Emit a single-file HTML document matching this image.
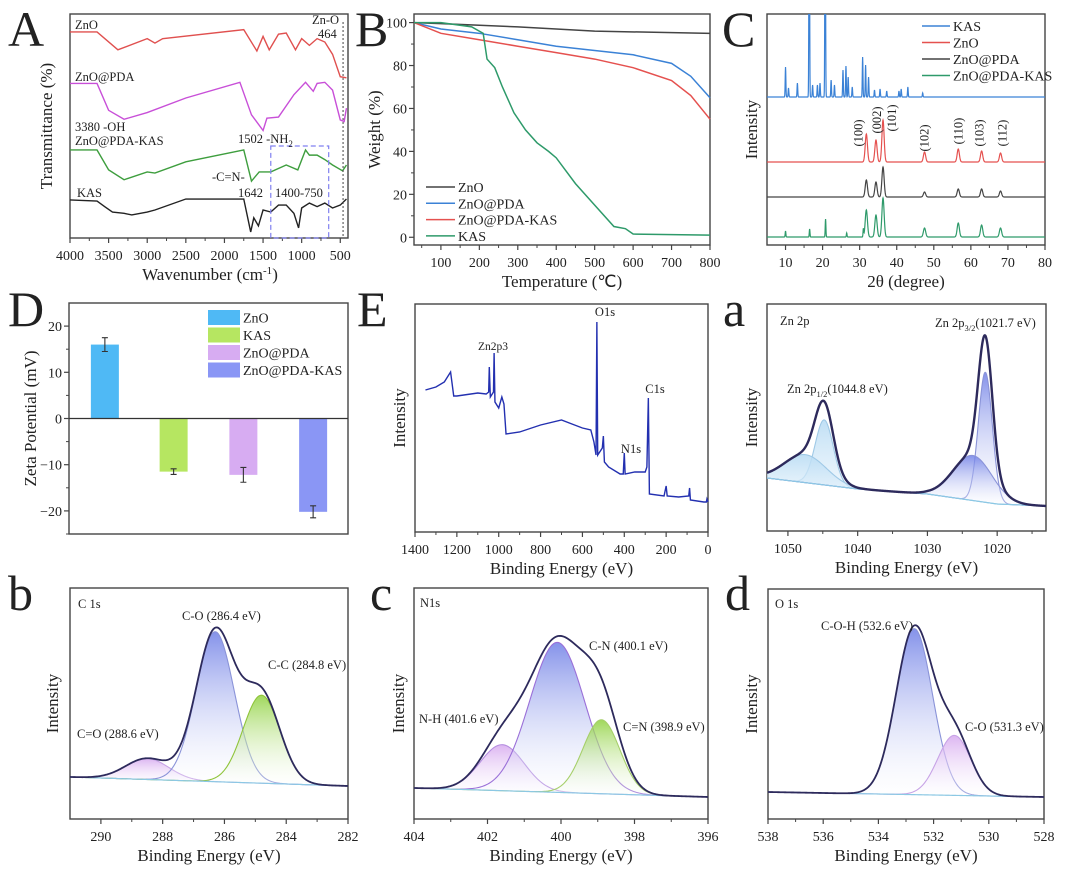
<!DOCTYPE html>
<html><head><meta charset="utf-8">
<style>
html,body{margin:0;padding:0;background:#fff;}
svg{display:block;font-family:"Liberation Serif",serif;}
</style></head>
<body>
<svg id="fig" width="1080" height="871" viewBox="0 0 1080 871" xmlns="http://www.w3.org/2000/svg">
<defs>
<linearGradient id="gBlue" x1="0" y1="0" x2="0" y2="1"><stop offset="0" stop-color="#6f7fe6" stop-opacity="0.85"/><stop offset="1" stop-color="#ffffff" stop-opacity="0.2"/></linearGradient>
<linearGradient id="gGreen" x1="0" y1="0" x2="0" y2="1"><stop offset="0" stop-color="#8fd13f" stop-opacity="0.85"/><stop offset="1" stop-color="#ffffff" stop-opacity="0.2"/></linearGradient>
<linearGradient id="gPink" x1="0" y1="0" x2="0" y2="1"><stop offset="0" stop-color="#d6a8ef" stop-opacity="0.85"/><stop offset="1" stop-color="#ffffff" stop-opacity="0.2"/></linearGradient>
<linearGradient id="gCyan" x1="0" y1="0" x2="0" y2="1"><stop offset="0" stop-color="#b9dcf4" stop-opacity="0.9"/><stop offset="1" stop-color="#eef6fc" stop-opacity="0.5"/></linearGradient>
<clipPath id="clipC"><rect x="767" y="14" width="278" height="231"/></clipPath>
</defs>
</svg>
<script>
// ---------------- DATA ----------------
const ftirZnO=[[4000,92],[3650,92],[3380,84],[3000,89],[2900,87],[2800,89],[1750,93],[1580,83.5],[1500,90],[1420,84],[1300,91],[1200,91.5],[1080,84],[1000,89],[900,86],[800,89],[700,87.5],[600,82],[500,72],[420,71.5]];
const ftirPDA=[[4000,69],[3650,69],[3500,57],[3300,53],[3000,56],[2500,62.5],[1800,69.5],[1650,55],[1500,48],[1450,53.5],[1300,54],[1100,64],[950,69.5],[850,65.5],[800,69],[700,69.5],[600,66],[500,52.7],[450,52],[420,58]];
const ftirPDAKAS=[[4000,39.3],[3650,39.3],[3500,30.4],[3300,26],[3000,29.5],[2900,29],[2500,34],[1750,39.3],[1650,25.4],[1550,29.5],[1400,29.5],[1200,32.6],[1050,30.4],[950,39.3],[900,37],[800,37],[700,35],[600,32.6],[470,30],[420,32.6]];
const ftirKAS=[[4000,17],[3650,16.5],[3550,14],[3450,11.6],[3300,11],[3200,10.3],[3000,11.6],[2900,12.5],[2500,17.4],[1750,17.4],[1660,2.7],[1620,9],[1560,5.4],[1500,12.5],[1400,11.6],[1300,14.7],[1200,14.7],[1100,11],[1040,4.5],[1000,13.4],[900,15.6],[800,14],[700,15.6],[600,13.4],[500,14.7],[420,17.4]];
const tgaZnO=[[30,100],[100,99.5],[300,98],[500,96],[800,95]];
const tgaPDA=[[30,100],[100,97],[200,95],[300,92],[400,89],[500,87],[600,85],[700,81],[750,75],[800,65]];
const tgaPDAKAS=[[30,100],[100,95],[200,92],[300,89],[400,86],[500,83],[600,79],[700,73],[750,66],[800,55]];
const tgaKAS=[[30,100],[100,100],[180,98],[210,95],[220,83],[240,79],[260,70],[290,58],[320,50],[350,44],[380,40],[400,37],[450,25],[500,15],[550,5],[580,4],[600,1.5],[800,1]];
const znoPeakPos=[31.8,34.4,36.3,47.5,56.6,62.9,68.0];
const znoPeakH=[28,22,42,10,13,11,9];
const pdaPeakH=[17,15,30,5,8,8,6];
const pdaKasPeakH=[27,22,39,9,14,12,9];
const greenExtraPeaks=[[20.8,18],[16.5,8],[10,6],[31,8],[26.5,4]];
const kasPeaks=[[10.0,30],[10.8,9],[13.2,14],[16.4,260],[17.3,12],[18.6,12],[19.3,14],[20.7,260],[22.3,17],[23.2,12],[25.5,27],[26.3,31],[26.9,20],[28,10],[30.8,40],[31.6,32],[32.4,20],[34,7],[35.5,8],[37.3,6],[40.6,6],[41.2,8],[43,10],[47,4]];
const xrdBaselines=[148,83,48,8];
const hklLabels=["(100)","(002)","(101)","(102)","(110)","(103)","(112)"];
const zetaCats=["ZnO","KAS","ZnO@PDA","ZnO@PDA-KAS"];
const zetaVals=[16,-11.5,-12.2,-20.2];
const zetaErr=[1.5,0.6,1.6,1.3];
const survey=[[1350,142],[1300,145],[1260,150],[1230,160],[1215,136],[1200,136],[1100,139],[1060,138],[1048,140],[1045,165],[1040,135],[1025,140],[1022,179],[1018,130],[1000,124],[985,135],[975,128],[965,98],[900,100],[800,107],[700,112],[650,108],[600,104],[560,102],[545,90],[535,77],[531,210],[527,77],[505,84],[500,96],[495,70],[475,65],[420,58],[405,58],[400,79],[396,58],[350,60],[300,60],[292,65],[285,134],[280,38],[210,36],[200,46],[195,36],[140,35],[92,36],[88,44],[84,32],[20,30],[8,30],[5,33],[0,30]];
const zn2pPeaks=[[1044.8,65,1.3],[1047.5,28,3],[1021.7,130,1.0],[1023.5,45,2.8]];
const zn2pBg=[[1053,53],[1040,42],[1030,37],[1020,27],[1013,25]];
const c1sPeaks=[[288.5,21,0.7],[286.3,150,0.62],[284.8,88,0.6]];
const c1sBg=[[291,42],[282,33]];
const n1sPeaks=[[401.6,46,0.6],[400.1,150,0.75],[398.9,74,0.5]];
const n1sBg=[[404,31],[396,22]];
const o1sPeaks=[[532.7,166,0.66],[531.25,60,0.6]];
const o1sBg=[[538,27],[528,22]];

// ---------------- HELPERS ----------------
const NS='http://www.w3.org/2000/svg';
const svg=document.getElementById('fig');
function mk(tag,attrs,name,parent){
  const e=document.createElementNS(NS,tag);
  for(const k in attrs) e.setAttribute(k,attrs[k]);
  
  
  (parent||svg).appendChild(e);
  return e;
}
function txt(x,y,s,size,anchor,name,extra){
  const a={x:x,y:y,'font-size':size,'text-anchor':anchor||'start',fill:'#222'};
  if(extra) for(const k in extra) a[k]=extra[k];
  const t=mk('text',a,name);
  t.textContent=s;
  return t;
}
function lin(d0,d1,r0,r1){return v=>r0+(v-d0)*(r1-r0)/(d1-d0);}
function panel(o){
  const sx=lin(o.xd[0],o.xd[1],o.x0,o.x1), sy=lin(o.yd[0],o.yd[1],o.y1,o.y0);
  const g=mk('g',{},o.name+'-axes');
  mk('rect',{x:o.x0,y:o.y0,width:o.x1-o.x0,height:o.y1-o.y0,fill:'none',stroke:'#444','stroke-width':1.4},o.name+'-frame',g);
  if(o.xt){o.xt.forEach(v=>{const X=sx(v);
    mk('line',{x1:X,x2:X,y1:o.y1,y2:o.y1+5,stroke:'#444','stroke-width':1.2},o.name+'-x-tick',g);
    txt(X,o.y1+22,String(v),14,'middle',o.name+'-x-tick-label');});
    if(o.xm){o.xm.forEach(v=>{const X=sx(v);mk('line',{x1:X,x2:X,y1:o.y1,y2:o.y1+3,stroke:'#444','stroke-width':1},o.name+'-x-minor-tick',g);});}
  }
  if(o.yt){o.yt.forEach(v=>{const Y=sy(v);
    mk('line',{x1:o.x0-5,x2:o.x0,y1:Y,y2:Y,stroke:'#444','stroke-width':1.2},o.name+'-y-tick',g);
    txt(o.x0-7,Y+5,String(v).replace('-','\u2212'),14,'end',o.name+'-y-tick-label');});
    if(o.ym){o.ym.forEach(v=>{const Y=sy(v);mk('line',{x1:o.x0-3,x2:o.x0,y1:Y,y2:Y,stroke:'#444','stroke-width':1},o.name+'-y-minor-tick',g);});}
  }
  if(o.xlabel){txt((o.x0+o.x1)/2,o.y1+42,o.xlabel,17,'middle',o.name+'-x-axis-title');}
  if(o.ylabel){const yc=(o.y0+o.y1)/2;txt(o.ylx,yc,o.ylabel,17,'middle',o.name+'-y-axis-title',{transform:'rotate(-90 '+o.ylx+' '+yc+')'});}
  return {sx,sy};
}
function pathFrom(pts,sx,sy){return pts.map((p,i)=>(i?'L':'M')+sx(p[0]).toFixed(2)+' '+sy(p[1]).toFixed(2)).join(' ');}
function interp(arr,x){
  const a=arr[0][0]<arr[arr.length-1][0]?arr:arr.slice().reverse();
  if(x<=a[0][0]) return a[0][1]; if(x>=a[a.length-1][0]) return a[a.length-1][1];
  for(let i=1;i<a.length;i++) if(x<=a[i][0]){const t=(x-a[i-1][0])/(a[i][0]-a[i-1][0]);return a[i-1][1]+t*(a[i][1]-a[i-1][1]);}
}
function gauss(x,p){return p[1]*Math.exp(-Math.pow(x-p[0],2)/(2*p[2]*p[2]));}
function range(a,b,st){const r=[];for(let v=a;v<=b+1e-9;v+=st)r.push(+v.toFixed(4));return r;}
function panelLetter(x,y,s,name){txt(x,y,s,50,'start',name);}

// ---------------- PANEL A ----------------
(function(){
  const P=panel({name:'panel-a-ftir',x0:70,x1:348,y0:14,y1:238,xd:[4000,400],yd:[0,100],xt:[4000,3500,3000,2500,2000,1500,1000,500],xm:range(750,3750,500),ylx:56});
  const t=txt(210,280,'Wavenumber (cm',17,'middle','panel-a-x-axis-title');
  const s1=document.createElementNS(NS,'tspan');s1.setAttribute('dy','-6');s1.setAttribute('font-size','11');s1.textContent='-1';t.appendChild(s1);
  const s2=document.createElementNS(NS,'tspan');s2.setAttribute('dy','6');s2.textContent=')';t.appendChild(s2);
  txt(52,126,'Transmittance (%)',17,'middle','panel-a-y-axis-title',{transform:'rotate(-90 52 126)'});
  const series=[[ftirZnO,'#e0504f','ftir-zno-line'],[ftirPDA,'#c84fd8','ftir-zno-pda-line'],[ftirPDAKAS,'#3e9e3e','ftir-zno-pda-kas-line'],[ftirKAS,'#222','ftir-kas-line']];
  series.forEach(s=>mk('path',{d:pathFrom(s[0],P.sx,P.sy),fill:'none',stroke:s[1],'stroke-width':1.4},s[2]));
  mk('rect',{x:P.sx(1400),y:146,width:P.sx(650)-P.sx(1400),height:92,fill:'none',stroke:'#8080f0','stroke-width':1.2,'stroke-dasharray':'5 3'},'ftir-region-box');
  mk('line',{x1:P.sx(464),x2:P.sx(464),y1:22,y2:238,stroke:'#444','stroke-width':1,'stroke-dasharray':'2 2'},'ftir-zno-marker');
  txt(75,29,'ZnO',12.5,'start','label-zno');
  txt(312,24,'Zn-O',12.5,'start','label-zn-o');
  txt(318,38,'464',12.5,'start','label-464');
  txt(75,81,'ZnO@PDA',12.5,'start','label-zno-pda');
  txt(75,131,'3380 -OH',12.5,'start','label-3380-oh');
  txt(75,145,'ZnO@PDA-KAS',12.5,'start','label-zno-pda-kas');
  const nh=txt(238,143,'1502 -NH',12.5,'start','label-1502-nh2');
  const sb=document.createElementNS(NS,'tspan');sb.setAttribute('dy','4');sb.setAttribute('font-size','9');sb.textContent='2';nh.appendChild(sb);
  txt(212,181,'-C=N-',12.5,'start','label-c-n');
  txt(238,197,'1642',12.5,'start','label-1642');
  txt(275,197,'1400-750',12.5,'start','label-1400-750');
  txt(77,197,'KAS',12.5,'start','label-kas');
  panelLetter(8,46,'A','panel-letter-a-upper');
})();

// ---------------- PANEL B ----------------
(function(){
  const P=panel({name:'panel-b-tga',x0:414,x1:710,y0:14,y1:245,xd:[30,800],yd:[-3.6,104],xt:[100,200,300,400,500,600,700,800],xm:range(50,750,100),yt:[0,20,40,60,80,100],ym:[10,30,50,70,90],xlabel:'Temperature (\u2103)',ylabel:'Weight (%)',ylx:380});
  const series=[[tgaZnO,'#444','tga-zno-line','ZnO'],[tgaPDA,'#3b82d6','tga-zno-pda-line','ZnO@PDA'],[tgaPDAKAS,'#e5514f','tga-zno-pda-kas-line','ZnO@PDA-KAS'],[tgaKAS,'#2e9a6a','tga-kas-line','KAS']];
  series.forEach((s,i)=>{
    mk('path',{d:pathFrom(s[0],P.sx,P.sy),fill:'none',stroke:s[1],'stroke-width':1.5},s[2]);
    const y=187+i*16.3;
    mk('line',{x1:426,x2:455,y1:y,y2:y,stroke:s[1],'stroke-width':1.5},'legend-swatch-'+s[2]);
    txt(458,y+5,s[3],14,'start','legend-entry-'+s[2]);
  });
  panelLetter(355,46,'B','panel-letter-b-upper');
})();

// ---------------- PANEL C ----------------
(function(){
  const P=panel({name:'panel-c-xrd',x0:767,x1:1045,y0:14,y1:245,xd:[5,80],yd:[0,231],xt:[10,20,30,40,50,60,70,80],xm:range(15,75,10),xlabel:'2\u03b8 (degree)',ylabel:'Intensity',ylx:757});
  const xs=range(5,80,0.05);
  function curve(base,peaks,w){return xs.map(x=>{let v=base;peaks.forEach(p=>{v+=p[1]*Math.exp(-Math.pow(x-p[0],2)/(2*w*w));});return [x,v];});}
  const zno=znoPeakPos.map((p,i)=>[p,znoPeakH[i]]);
  const pda=znoPeakPos.map((p,i)=>[p,pdaPeakH[i]]);
  const pk=znoPeakPos.map((p,i)=>[p,pdaKasPeakH[i]]);
  const greenCurve=curve(xrdBaselines[3],pk,0.3).map(p=>{let v=p[1];greenExtraPeaks.forEach(q=>{v+=q[1]*Math.exp(-Math.pow(p[0]-q[0],2)/(2*0.09*0.09));});return [p[0],v];});
  const series=[[curve(xrdBaselines[0],kasPeaks,0.09),'#3b82d6','xrd-kas-line','KAS'],[curve(xrdBaselines[1],zno,0.3),'#e5514f','xrd-zno-line','ZnO'],[curve(xrdBaselines[2],pda,0.3),'#444','xrd-zno-pda-line','ZnO@PDA'],[greenCurve,'#2e9a6a','xrd-zno-pda-kas-line','ZnO@PDA-KAS']];
  series.forEach((s,i)=>{
    mk('path',{d:pathFrom(s[0],P.sx,P.sy),fill:'none',stroke:s[1],'stroke-width':1.2,'clip-path':'url(#clipC)'},s[2]);
    const y=26+i*16.5;
    mk('line',{x1:922,x2:950,y1:y,y2:y,stroke:s[1],'stroke-width':1.5},'legend-swatch-'+s[2]);
    txt(953,y+5,s[3],14,'start','legend-entry-'+s[2]);
  });
  const ly=[133,120,118,138,131,133,133];
  const lox=[-8,1,9,0,0,-2,2];
  znoPeakPos.forEach((p,i)=>{const X=P.sx(p)+lox[i];txt(X,ly[i],hklLabels[i],12.5,'middle','hkl-label',{transform:'rotate(-90 '+X+' '+ly[i]+')','dominant-baseline':'central'});});
  panelLetter(722,46,'C','panel-letter-c-upper');
})();

// ---------------- PANEL D ----------------
(function(){
  const P=panel({name:'panel-d-zeta',x0:69,x1:348,y0:303,y1:534,xd:[0,4],yd:[-25,25],yt:[-20,-10,0,10,20],ym:[-25,-15,-5,5,15],ylabel:'Zeta Potential (mV)',ylx:36});
  const cols=['#4fb9f5','#b6e661','#d7acf2','#8a96f5'];
  const bw=28;
  zetaVals.forEach((v,i)=>{
    const cx=P.sx(i+0.5)+((i===0)?1:0);
    const y0=P.sy(0),y1=P.sy(v);
    mk('rect',{x:cx-bw/2,y:Math.min(y0,y1),width:bw,height:Math.abs(y1-y0),fill:cols[i]},'bar-'+zetaCats[i].toLowerCase().replace(/@/g,'-'));
    const ea=P.sy(v+zetaErr[i]),eb=P.sy(v-zetaErr[i]);
    mk('path',{d:'M'+cx+' '+ea+' V'+eb+' M'+(cx-3)+' '+ea+' H'+(cx+3)+' M'+(cx-3)+' '+eb+' H'+(cx+3),stroke:'#333','stroke-width':1.1,fill:'none'},'error-bar');
    const ly=310+i*17.5;
    mk('rect',{x:208,y:ly,width:32,height:15,fill:cols[i]},'legend-swatch-'+zetaCats[i].toLowerCase());
    txt(243,ly+12.5,zetaCats[i],14,'start','legend-entry-'+zetaCats[i].toLowerCase());
  });
  mk('line',{x1:69,x2:348,y1:P.sy(0),y2:P.sy(0),stroke:'#333','stroke-width':1.3},'zero-line');
  panelLetter(8,326,'D','panel-letter-d-upper');
})();

// ---------------- PANEL E ----------------
(function(){
  const P=panel({name:'panel-e-survey',x0:415,x1:708,y0:304,y1:532,xd:[1400,0],yd:[0,228],xt:[1400,1200,1000,800,600,400,200,0],xm:range(100,1300,200),xlabel:'Binding Energy (eV)',ylabel:'Intensity',ylx:405});
  mk('path',{d:pathFrom(survey,P.sx,P.sy),fill:'none',stroke:'#2330b0','stroke-width':1.4},'survey-spectrum-line');
  txt(493,350,'Zn2p3',11.5,'middle','label-zn2p3');
  txt(605,316,'O1s',12.5,'middle','label-o1s');
  txt(631,453,'N1s',12.5,'middle','label-n1s');
  txt(655,393,'C1s',12.5,'middle','label-c1s');
  panelLetter(357,326,'E','panel-letter-e-upper');
})();

function xpsFit(o){
  const P=panel(o);
  const xs=range(Math.min(o.xd[0],o.xd[1]),Math.max(o.xd[0],o.xd[1]),0.04);
  const bg=x=>interp(o.bg,x);
  o.peaks.forEach((p,i)=>{
    const pts=xs.map(x=>[x,bg(x)+gauss(x,p)]);
    const d=pathFrom(pts,P.sx,P.sy)+' '+pathFrom(xs.slice().reverse().map(x=>[x,bg(x)]),P.sx,P.sy).replace('M','L')+' Z';
    mk('path',{d:d,fill:'url(#'+o.fills[i]+')',stroke:'none'},o.name+'-component-fill');
    mk('path',{d:pathFrom(pts,P.sx,P.sy),fill:'none',stroke:o.strokes[i],'stroke-width':1.1},o.name+'-component-line');
  });
  mk('path',{d:pathFrom(xs.map(x=>[x,bg(x)]),P.sx,P.sy),fill:'none',stroke:'#8cc8e4','stroke-width':1.2},o.name+'-background-line');
  const env=xs.map(x=>{let v=bg(x);o.peaks.forEach(p=>v+=gauss(x,p));return [x,v];});
  mk('path',{d:pathFrom(env,P.sx,P.sy),fill:'none',stroke:'#2d2a5c','stroke-width':o.envW||1.8},o.name+'-envelope-line');
  return P;
}

(function(){
  xpsFit({name:'panel-a-zn2p',x0:767,x1:1046,y0:304,y1:531,xd:[1053,1013],yd:[0,227],xt:[1050,1040,1030,1020],xm:[1045,1035,1025,1015],xlabel:'Binding Energy (eV)',ylabel:'Intensity',ylx:757,
    peaks:zn2pPeaks,bg:zn2pBg,fills:['gCyan','gCyan','gBlue','gBlue'],strokes:['#9fc9e6','#9fc9e6','#8a93d8','#8a93d8'],envW:2.4});
  txt(780,325,'Zn 2p',12.5,'start','label-zn-2p');
  const t1=txt(935,327,'Zn 2p',12.5,'start','label-zn-2p3-2');
  [['3/2','4','8.5'],['(1021.7 eV)','-4','12.5']].forEach(q=>{const s=document.createElementNS(NS,'tspan');s.setAttribute('dy',q[1]);s.setAttribute('font-size',q[2]);s.textContent=q[0];t1.appendChild(s);});
  const t2=txt(787,393,'Zn 2p',12.5,'start','label-zn-2p1-2');
  [['1/2','4','8.5'],['(1044.8 eV)','-4','12.5']].forEach(q=>{const s=document.createElementNS(NS,'tspan');s.setAttribute('dy',q[1]);s.setAttribute('font-size',q[2]);s.textContent=q[0];t2.appendChild(s);});
  panelLetter(723,326,'a','panel-letter-a-lower');
})();

(function(){
  xpsFit({name:'panel-b-c1s',x0:70,x1:348,y0:588,y1:819,xd:[291,282],yd:[0,231],xt:[290,288,286,284,282],xm:[289,287,285,283],xlabel:'Binding Energy (eV)',ylabel:'Intensity',ylx:58,
    peaks:c1sPeaks,bg:c1sBg,fills:['gPink','gBlue','gGreen'],strokes:['#c7a3e6','#8a93d8','#8fc43a']});
  txt(78,608,'C 1s',12.5,'start','label-c-1s');
  txt(182,620,'C-O (286.4 eV)',12.5,'start','label-c-o');
  txt(268,669,'C-C (284.8 eV)',12.5,'start','label-c-c');
  txt(77,738,'C=O (288.6 eV)',12.5,'start','label-c-double-o');
  panelLetter(8,610,'b','panel-letter-b-lower');
})();

(function(){
  xpsFit({name:'panel-c-n1s',x0:414,x1:708,y0:588,y1:819,xd:[404,396],yd:[0,231],xt:[404,402,400,398,396],xm:[403,401,399,397],xlabel:'Binding Energy (eV)',ylabel:'Intensity',ylx:404,
    peaks:n1sPeaks,bg:n1sBg,fills:['gPink','gBlue','gGreen'],strokes:['#b58ee0','#9a6fd8','#a6cf6a']});
  txt(420,607,'N1s',12.5,'start','label-n1s-title');
  txt(419,723,'N-H (401.6 eV)',12.5,'start','label-n-h');
  txt(589,650,'C-N (400.1 eV)',12.5,'start','label-c-n-400');
  txt(623,731,'C=N (398.9 eV)',12.5,'start','label-c-double-n');
  panelLetter(370,610,'c','panel-letter-c-lower');
})();

(function(){
  xpsFit({name:'panel-d-o1s',x0:768,x1:1044,y0:589,y1:819,xd:[538,528],yd:[0,230],xt:[538,536,534,532,530,528],xm:[537,535,533,531,529],xlabel:'Binding Energy (eV)',ylabel:'Intensity',ylx:757,
    peaks:o1sPeaks,bg:o1sBg,fills:['gBlue','gPink'],strokes:['#8a93d8','#c7a3e6']});
  txt(775,608,'O 1s',12.5,'start','label-o-1s');
  txt(821,630,'C-O-H (532.6 eV)',12.5,'start','label-c-o-h');
  txt(965,731,'C-O (531.3 eV)',12.5,'start','label-c-o-531');
  panelLetter(725,610,'d','panel-letter-d-lower');
})();
</script>
</body></html>
